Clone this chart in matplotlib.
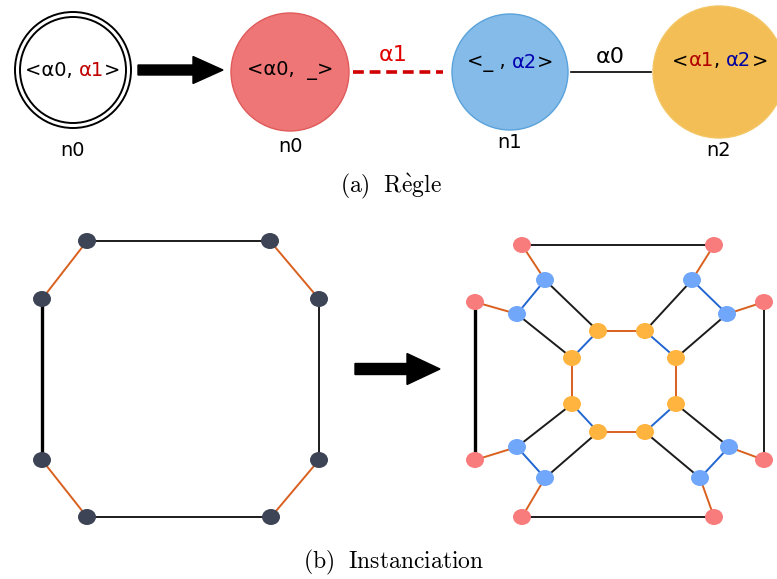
import matplotlib
matplotlib.use('Agg')
import matplotlib.pyplot as plt
from matplotlib.patches import Circle, Ellipse, FancyArrow

plt.rcParams['mathtext.fontset'] = 'cm'
plt.rcParams['font.family'] = ['DejaVu Sans']

# left graph: octagon (x, y in pixels)
oct_nodes = [(87, 241), (270, 241), (319, 299), (319, 460),
             (271, 517), (87, 517), (42, 460), (42, 299)]
# (a, b, kind) kind: a0 = black, a1 = orange, a2 = blue
oct_edges = [(0, 1, 'a0'), (1, 2, 'a1'), (2, 3, 'a0'), (3, 4, 'a1'),
             (4, 5, 'a0'), (5, 6, 'a1'), (6, 7, 'a0b'), (7, 0, 'a1')]

# right graph
red_nodes = [(522, 245), (714, 245), (475, 302), (764, 302),
             (475, 460), (764, 460), (522, 517), (714, 517)]
blue_nodes = [(545, 280), (692, 280), (517, 314), (727, 314),
              (517, 447), (729, 447), (545, 478), (700, 478)]
orange_nodes = [(598, 331), (645, 331), (572, 358), (676, 358),
                (572, 404), (676, 404), (598, 432), (645, 432)]
res_nodes = red_nodes + blue_nodes + orange_nodes  # r0..7, b8..15, o16..23
res_edges = [
    (0, 1, 'a0'), (0, 8, 'a1'), (1, 9, 'a1'), (2, 10, 'a1'), (3, 11, 'a1'),
    (2, 4, 'a0b'), (3, 5, 'a0'), (4, 12, 'a1'), (5, 13, 'a1'),
    (6, 14, 'a1'), (7, 15, 'a1'), (6, 7, 'a0'),
    (8, 10, 'a2'), (9, 11, 'a2'), (12, 14, 'a2'), (13, 15, 'a2'),
    (8, 16, 'a0'), (10, 18, 'a0'), (9, 17, 'a0'), (11, 19, 'a0'),
    (12, 20, 'a0'), (14, 22, 'a0'), (13, 21, 'a0'), (15, 23, 'a0'),
    (16, 17, 'a1'), (16, 18, 'a2'), (17, 19, 'a2'), (18, 20, 'a1'),
    (19, 21, 'a1'), (20, 22, 'a2'), (21, 23, 'a2'), (22, 23, 'a1'),
]

edge_style = {
    'a0': ('#1c1c1c', 1.4),
    'a0b': ('#000000', 2.4),
    'a1': ('#D9601E', 1.4),
    'a2': ('#2266D2', 1.4),
}

fig = plt.figure(figsize=(7.77, 5.79), dpi=100)
ax = fig.add_axes([0, 0, 1, 1])
ax.set_xlim(0, 777)
ax.set_ylim(579, 0)
ax.set_aspect('equal')
ax.axis('off')
renderer = fig.canvas.get_renderer()


def colored_text(x, y, parts, size):
    # parts drawn one after another, whole thing centred on x
    objs = []
    total = 0
    for s, c in parts:
        t = ax.text(0, y, s, color=c, fontsize=size, ha='left', va='center')
        w = t.get_window_extent(renderer=renderer).width
        objs.append((t, w))
        total += w
    cur = x - total / 2
    for t, w in objs:
        t.set_x(cur)
        cur += w


def draw_graph(nodes, edges, colors):
    for a, b, k in edges:
        c, lw = edge_style[k]
        ax.plot([nodes[a][0], nodes[b][0]], [nodes[a][1], nodes[b][1]],
                color=c, lw=lw, zorder=1, solid_capstyle='butt')
    for (x, y), c in zip(nodes, colors):
        ax.add_patch(Ellipse((x, y), 18, 16, fc=c, ec='none', zorder=2))


# ---- (a) rule ----
ax.add_patch(Circle((73, 70), 58, fc='white', ec='black', lw=1.4))
ax.add_patch(Circle((73, 70), 53, fc='none', ec='black', lw=1.4))
colored_text(73, 70, [('<α0, ', 'black'), ('α1', '#C00000'), ('>', 'black')], 14)
ax.text(73, 150, 'n0', fontsize=14, ha='center', va='center')

ax.add_patch(FancyArrow(138, 70, 85, 0, width=10, head_width=27, head_length=30,
                        length_includes_head=True, fc='black', ec='black'))

ax.add_patch(Circle((290, 72), 59, fc='#EE7676', ec='#E05A5A', lw=1))
colored_text(290, 70, [('<α0,  _>', 'black')], 14)
ax.text(290, 146, 'n0', fontsize=14, ha='center', va='center')

ax.plot([353, 443], [72, 72], color='#D00000', lw=2.6, ls=(0, (3, 1.6)))
ax.text(393, 55, 'α1', color='#E00000', fontsize=16, ha='center', va='center')

ax.add_patch(Circle((510, 72), 58, fc='#85BBE8', ec='#5AA2DA', lw=1))
colored_text(510, 62, [('<_ , ', 'black'), ('α2', '#0000B0'), ('>', 'black')], 14)
ax.text(510, 143, 'n1', fontsize=14, ha='center', va='center')

ax.plot([571, 651], [72, 72], color='black', lw=1.2)
ax.text(610, 57, 'α0', fontsize=16, ha='center', va='center')

ax.add_patch(Circle((719, 72), 66, fc='#F2BE55', ec='#F4C565', lw=1))
colored_text(720, 61, [('<', 'black'), ('α1', '#B00000'), (', ', 'black'),
                       ('α2', '#0000A0'), ('>', 'black')], 14)
ax.text(719, 150, 'n2', fontsize=14, ha='center', va='center')

ax.text(391, 186, r'$\mathrm{(a)\ \ R\grave{e}gle}$', fontsize=17,
        ha='center', va='center')

# ---- (b) instanciation ----
draw_graph(oct_nodes, oct_edges, ['#3D4455'] * 8)
draw_graph(res_nodes, res_edges,
           ['#F87C7C'] * 8 + ['#71A7FA'] * 8 + ['#FFB43F'] * 8)

ax.add_patch(FancyArrow(355, 369, 85, 0, width=11, head_width=31, head_length=33,
                        length_includes_head=True, fc='black', ec='black'))

ax.text(394, 562, r'$\mathrm{(b)\ \ Instanciation}$', fontsize=17,
        ha='center', va='center')

fig.savefig('out.png', dpi=100)
